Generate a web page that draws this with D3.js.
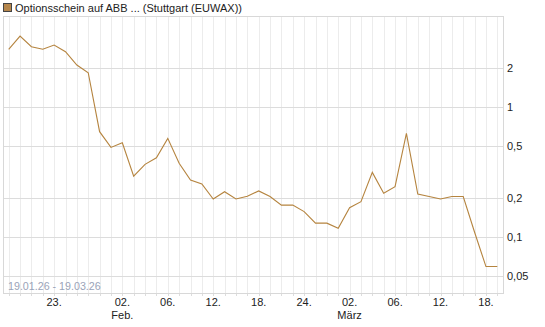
<!DOCTYPE html>
<html><head><meta charset="utf-8">
<script src="https://cdn.jsdelivr.net/npm/d3@7"></script>
<style>body{margin:0;background:#fff;}svg{display:block;font-family:"Liberation Sans",Arial,sans-serif;}</style>
</head><body><div id="chart"></div>
<script>
const dates = ["2026-01-19","2026-01-20","2026-01-21","2026-01-22","2026-01-23",
"2026-01-26","2026-01-27","2026-01-28","2026-01-29","2026-01-30",
"2026-02-02","2026-02-03","2026-02-04","2026-02-05","2026-02-06",
"2026-02-09","2026-02-10","2026-02-11","2026-02-12","2026-02-13",
"2026-02-16","2026-02-17","2026-02-18","2026-02-19","2026-02-20",
"2026-02-23","2026-02-24","2026-02-25","2026-02-26","2026-02-27",
"2026-03-02","2026-03-03","2026-03-04","2026-03-05","2026-03-06",
"2026-03-09","2026-03-10","2026-03-11","2026-03-12","2026-03-13",
"2026-03-16","2026-03-17","2026-03-18","2026-03-19"];
const values = [2.79,3.53,2.92,2.79,3.01,2.67,2.11,1.84,0.645,0.488,
0.53,0.293,0.361,0.406,0.573,0.368,0.273,0.255,0.195,0.222,
0.195,0.205,0.225,0.204,0.175,0.175,0.156,0.127,0.127,0.116,
0.167,0.186,0.313,0.216,0.243,0.626,0.213,0.204,0.195,0.204,
0.204,0.108,0.0587,0.0587];
const yTicks = [0.05,0.1,0.2,0.5,1,2];
const yTickLabels = ["0,05","0,1","0,2","0,5","1","2"];
const xTickDates = ["2026-01-23","2026-02-02","2026-02-06","2026-02-12","2026-02-18","2026-02-24","2026-03-02","2026-03-06","2026-03-12","2026-03-18"];
const xTickLabels = ["23.","02.","06.","12.","18.","24.","02.","06.","12.","18."];
const monthDates = ["2026-02-02","2026-03-02"];
const monthLabels = ["Feb.","März"];
const seriesName = "Optionsschein auf ABB ... (Stuttgart (EUWAX))";
const rangeLabel = "19.01.26 - 19.03.26";

const W = 545, H = 327;
const L = 3, R = 503, T = 16, B = 293;
const lineColor = "#b5843f";

const svg = d3.select("#chart").append("svg").attr("width", W).attr("height", H);

const x = d3.scalePoint().domain(dates).range([L, R]).padding(0.5);
const y = d3.scaleLog().domain([0.0367, 5.04]).range([B, T]);

// vertical gridlines
svg.append("g").selectAll("line").data(dates).join("line")
  .attr("x1", d => Math.round(x(d)) + 0.5).attr("x2", d => Math.round(x(d)) + 0.5)
  .attr("y1", T).attr("y2", B)
  .attr("stroke", "#ececec").attr("stroke-width", 1);
// x tick marks
svg.append("g").selectAll("line").data(dates).join("line")
  .attr("x1", d => Math.round(x(d)) + 0.5).attr("x2", d => Math.round(x(d)) + 0.5)
  .attr("y1", B).attr("y2", B + 3)
  .attr("stroke", "#dddddd").attr("stroke-width", 1);
// horizontal gridlines
svg.append("g").selectAll("line").data(yTicks).join("line")
  .attr("x1", L).attr("x2", R)
  .attr("y1", d => Math.round(y(d)) + 0.5).attr("y2", d => Math.round(y(d)) + 0.5)
  .attr("stroke", "#dcdcdc").attr("stroke-width", 1);
// frame
svg.append("rect").attr("x", L + 0.5).attr("y", T + 0.5).attr("width", R - L).attr("height", B - T)
  .attr("fill", "none").attr("stroke", "#d8d8d8").attr("stroke-width", 1);

// y labels
svg.append("g").selectAll("text").data(yTicks).join("text")
  .attr("x", R + 4).attr("y", d => y(d) + 4)
  .attr("font-size", 11).attr("fill", "#222")
  .text((d, i) => yTickLabels[i]);

// x labels
svg.append("g").selectAll("text").data(xTickDates).join("text")
  .attr("x", d => x(d)).attr("y", 306).attr("text-anchor", "middle")
  .attr("font-size", 11).attr("fill", "#222")
  .text((d, i) => xTickLabels[i]);
svg.append("g").selectAll("text").data(monthDates).join("text")
  .attr("x", d => x(d)).attr("y", 319).attr("text-anchor", "middle")
  .attr("font-size", 11).attr("fill", "#222")
  .text((d, i) => monthLabels[i]);

// range label
svg.append("text").attr("x", 8).attr("y", 290).attr("font-size", 10.7).attr("fill", "#9aa3b8").text(rangeLabel);

// line
const line = d3.line().x((d, i) => x(dates[i])).y(d => y(d));
svg.append("path").datum(values).attr("d", line)
  .attr("fill", "none").attr("stroke", lineColor).attr("stroke-width", 1.1);

// legend
svg.append("rect").attr("x", 3.5).attr("y", 3.5).attr("width", 8).attr("height", 8)
  .attr("fill", "#b5864c").attr("stroke", "#444").attr("stroke-width", 1);
svg.append("text").attr("x", 15).attr("y", 12).attr("font-size", 11).attr("fill", "#222").text(seriesName);
</script></body></html>
